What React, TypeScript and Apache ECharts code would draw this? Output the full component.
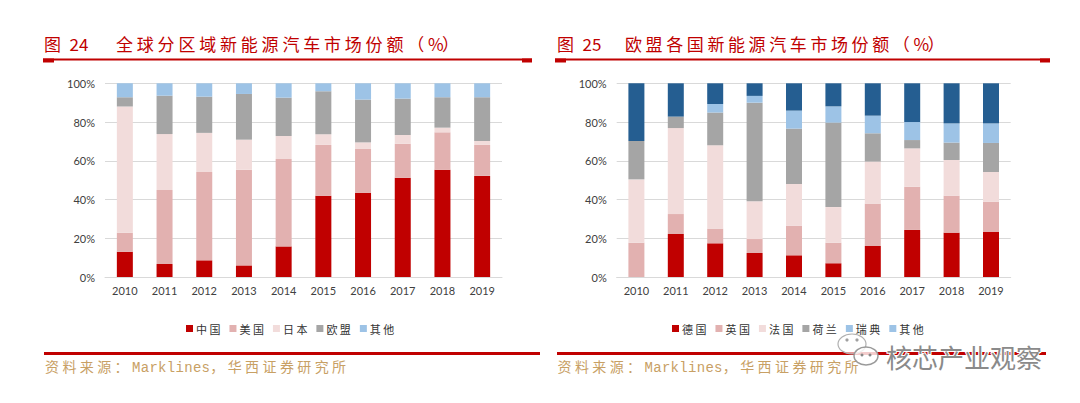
import React, { useEffect, useRef } from "react";
import * as echarts from "echarts";

const years = ["2010", "2011", "2012", "2013", "2014", "2015", "2016", "2017", "2018", "2019"];
const yTicks = [0, 20, 40, 60, 80, 100];

// Global regional share (%)
const globalNames = ["中国", "美国", "日本", "欧盟", "其他"];
const globalChina = [13.1, 6.7, 8.6, 6.0, 15.8, 42.0, 43.5, 51.3, 55.4, 52.2];
const globalUS = [9.8, 38.2, 45.6, 49.4, 45.1, 26.2, 22.8, 17.5, 19.3, 16.0];
const globalJapan = [65.1, 28.9, 20.2, 15.5, 11.9, 5.5, 3.2, 4.5, 2.4, 2.0];
const globalEU = [4.8, 19.8, 18.7, 23.6, 19.8, 22.2, 22.1, 18.8, 15.7, 22.6];
const globalOther = [7.2, 6.4, 6.9, 5.5, 7.4, 4.1, 8.4, 7.9, 7.2, 7.2];

// EU country share (%)
const euNames = ["德国", "英国", "法国", "荷兰", "瑞典", "其他"];
const euGermany = [0, 22.2, 17.4, 12.4, 11.2, 7.1, 16.0, 24.3, 22.9, 23.4];
const euUK = [17.7, 10.3, 7.6, 7.2, 15.3, 10.6, 21.9, 22.3, 19.1, 15.5];
const euFrance = [32.7, 44.4, 43.0, 19.5, 21.5, 18.4, 21.7, 19.8, 18.4, 15.3];
const euNetherlands = [19.8, 5.9, 16.9, 50.9, 28.6, 43.6, 14.6, 4.3, 9.0, 15.0];
const euSweden = [0, 0, 4.4, 3.5, 9.3, 8.4, 9.1, 9.3, 9.9, 10.1];
const euOther = [29.8, 17.2, 10.7, 6.5, 14.1, 11.9, 16.7, 20.0, 20.7, 20.7];

const title1 = ["图 24", "全球分区域新能源汽车市场份额（%）"];
const title2 = ["图 25", "欧盟各国新能源汽车市场份额（%）"];
const sourceText = "资料来源：Marklines，华西证券研究所";
const watermark = "核芯产业观察";

const C_RED = "#c00000";
const C_PINK = "#e2b1b0";
const C_LPINK = "#f2dcdb";
const C_GRAY = "#a5a5a5";
const C_LBLUE = "#9dc3e6";
const C_DBLUE = "#255e91";

const CJK = '"Noto Sans CJK SC", "Noto Sans", sans-serif';

function isHalf(ch: string) {
  return ch.charCodeAt(0) < 0x2e80;
}

function spacedText(str: string, x0: number, y: number, full: number, half: number, fontSize: number, color: string, family: string) {
  const out: any[] = [];
  let x = x0;
  for (const ch of str) {
    if (ch !== " ") {
      out.push({
        type: "text",
        x,
        y,
        silent: true,
        style: {
          text: ch,
          fill: color,
          fontSize,
          fontFamily: family,
          verticalAlign: "middle",
          textVerticalAlign: "middle",
        },
      });
    }
    x += isHalf(ch) ? half : full;
  }
  return out;
}

function titleLines(x0: number, x1: number, y: number) {
  return [
    { type: "rect", silent: true, shape: { x: x0, y: y - 1, width: x1 - x0, height: 2 }, style: { fill: C_RED } },
    { type: "rect", silent: true, shape: { x: x0, y: y - 1, width: 11, height: 4 }, style: { fill: C_RED } },
    { type: "rect", silent: true, shape: { x: x1 - 10, y: y - 1, width: 10, height: 4 }, style: { fill: C_RED } },
  ];
}

function barSeries(name: string, data: number[], color: string, idx: number, stack: string) {
  return {
    name,
    type: "bar",
    stack,
    data,
    barWidth: 16,
    xAxisIndex: idx,
    yAxisIndex: idx,
    itemStyle: { color },
    emphasis: { disabled: true },
  };
}

export default function App() {
  const ref = useRef<HTMLDivElement>(null);
  useEffect(() => {
    document.body.style.margin = "0";
    if (!ref.current) return;
    const chart = echarts.init(ref.current, undefined, { renderer: "svg" });

    const xAxisBase = {
      type: "category",
      data: years,
      axisTick: { show: false },
      axisLine: { lineStyle: { color: "#d9d9d9", width: 1 } },
      axisLabel: { color: "#404040", fontSize: 11, fontFamily: "Lato, sans-serif", margin: 8 },
    };
    const yAxisBase = {
      type: "value",
      min: yTicks[0],
      max: yTicks[yTicks.length - 1],
      interval: 20,
      axisLine: { show: false },
      axisTick: { show: false },
      splitLine: { lineStyle: { color: "#d9d9d9", width: 1 } },
      axisLabel: { color: "#404040", fontSize: 11, fontFamily: "Lato, sans-serif", margin: 10, formatter: "{value}%" },
    };
    const legendBase = {
      itemWidth: 7,
      itemHeight: 7,
      itemGap: 9,
      icon: "rect",
      top: 318,
      selectedMode: false,
      textStyle: { fontSize: 11, color: "#333", fontFamily: CJK, padding: [0, 0, 0, -2] },
      formatter: (n: string) => n.split("").join(" "),
    };

    const graphics: any[] = [
      ...spacedText(title1[0], 44, 43, 16, 9.5, 17, C_RED, CJK),
      ...spacedText(title1[1], 116, 43, 20.8, 14, 17, C_RED, CJK),
      ...spacedText(title2[0], 557, 43, 16, 9.5, 17, C_RED, CJK),
      ...spacedText(title2[1], 625, 43, 20.6, 14, 17, C_RED, CJK),
      ...titleLines(43, 532, 59.5),
      ...titleLines(555, 1050, 59.5),
      { type: "rect", silent: true, shape: { x: 44, y: 352, width: 496, height: 3 }, style: { fill: C_RED } },
      { type: "rect", silent: true, shape: { x: 557, y: 352, width: 489, height: 3 }, style: { fill: C_RED } },
      ...spacedText(sourceText, 45, 368, 17.4, 8.7, 14, "#c8a064", '"Liberation Mono", "Noto Sans CJK SC", monospace'),
      ...spacedText(sourceText, 557.5, 368, 17.4, 8.7, 14, "#c8a064", '"Liberation Mono", "Noto Sans CJK SC", monospace'),
      // watermark icon (two speech bubbles)
      { type: "ellipse", silent: true, shape: { cx: 852, cy: 344, rx: 14, ry: 10 }, style: { fill: "rgba(255,255,255,0.6)", stroke: "#b0b0b0", lineWidth: 1.2 } },
      { type: "ellipse", silent: true, shape: { cx: 866, cy: 356, rx: 12, ry: 9 }, style: { fill: "rgba(255,255,255,0.8)", stroke: "#9a9a9a", lineWidth: 1.4 } },
      { type: "circle", silent: true, shape: { cx: 847, cy: 340, r: 1.6 }, style: { fill: "#a0a0a0" } },
      { type: "circle", silent: true, shape: { cx: 857, cy: 340, r: 1.6 }, style: { fill: "#a0a0a0" } },
      { type: "circle", silent: true, shape: { cx: 862, cy: 355, r: 1.5 }, style: { fill: "#888" } },
      { type: "circle", silent: true, shape: { cx: 870, cy: 355, r: 1.5 }, style: { fill: "#888" } },
      {
        type: "text",
        x: 886,
        y: 356,
        silent: true,
        style: {
          text: watermark,
          fill: "#8a8a8a",
          stroke: "#ffffff",
          lineWidth: 2,
          fontSize: 26,
          fontFamily: CJK,
          verticalAlign: "middle",
          textVerticalAlign: "middle",
        },
      },
    ];

    chart.setOption({
      animation: false,
      grid: [
        { left: 105, width: 397, top: 83.3, bottom: 126, containLabel: false },
        { left: 616.7, width: 394, top: 83.3, bottom: 126, containLabel: false },
      ],
      xAxis: [
        { ...xAxisBase, gridIndex: 0 },
        { ...xAxisBase, gridIndex: 1 },
      ],
      yAxis: [
        { ...yAxisBase, gridIndex: 0 },
        { ...yAxisBase, gridIndex: 1 },
      ],
      legend: [
        { ...legendBase, left: 181, data: globalNames },
        { ...legendBase, left: 667, data: euNames },
      ],
      series: [
        barSeries(globalNames[0], globalChina, C_RED, 0, "g"),
        barSeries(globalNames[1], globalUS, C_PINK, 0, "g"),
        barSeries(globalNames[2], globalJapan, C_LPINK, 0, "g"),
        barSeries(globalNames[3], globalEU, C_GRAY, 0, "g"),
        barSeries(globalNames[4], globalOther, C_LBLUE, 0, "g"),
        barSeries(euNames[0], euGermany, C_RED, 1, "e"),
        barSeries(euNames[1], euUK, C_PINK, 1, "e"),
        barSeries(euNames[2], euFrance, C_LPINK, 1, "e"),
        barSeries(euNames[3], euNetherlands, C_GRAY, 1, "e"),
        barSeries(euNames[4], euSweden, C_LBLUE, 1, "e"),
        barSeries(euNames[5], euOther, C_DBLUE, 1, "e"),
      ],
      graphic: graphics,
    });

    return () => chart.dispose();
  }, []);

  return <div ref={ref} style={{ width: 1080, height: 403, background: "#fff" }} />;
}
